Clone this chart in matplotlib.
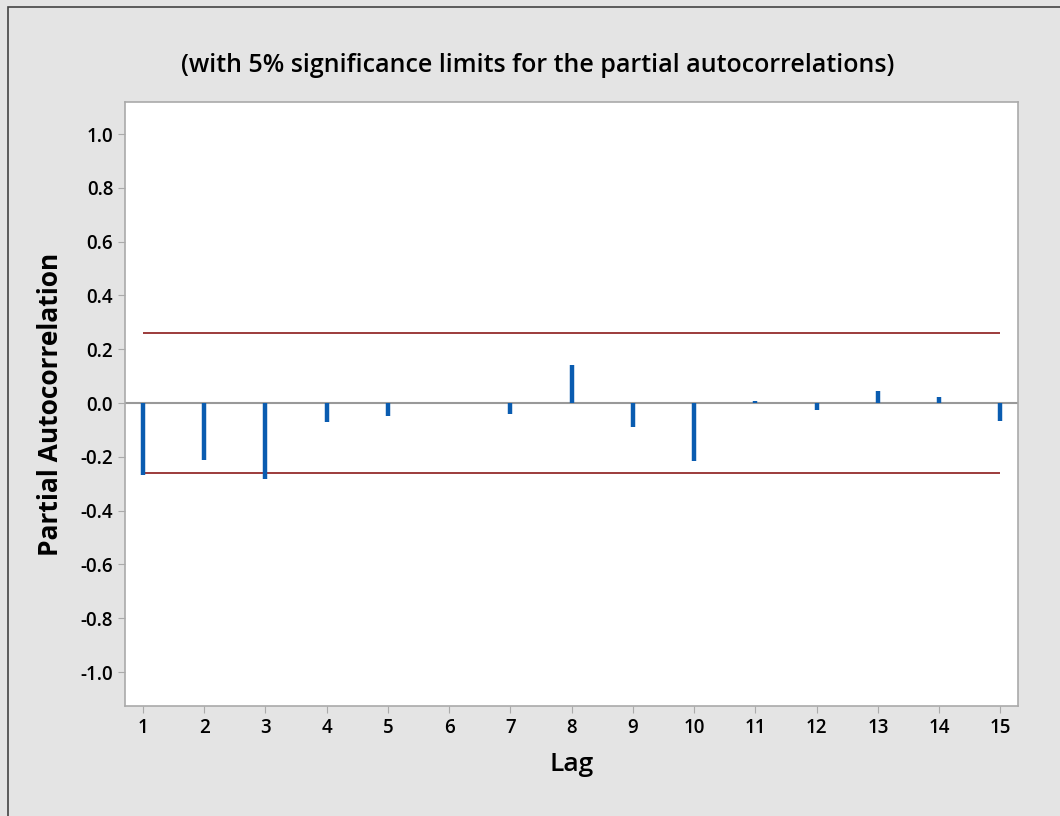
import numpy as np
import matplotlib.pyplot as plt
from matplotlib.patches import Rectangle

plt.rcParams['font.family'] = ['Open Sans', 'DejaVu Sans']

lags = np.arange(1, 16)
pacf = [-0.268, -0.212, -0.284, -0.072, -0.048, 0.0, -0.041, 0.141,
        -0.088, -0.214, 0.008, -0.025, 0.046, 0.022, -0.066]
sig_limit = 0.26
yticks = [-1.0, -0.8, -0.6, -0.4, -0.2, 0.0, 0.2, 0.4, 0.6, 0.8, 1.0]

fig = plt.figure(figsize=(10.6, 8.16), dpi=100)
fig.patch.set_facecolor("#e4e4e4")
fig.patches.append(Rectangle((0.008, -0.01), 1.1, 1.1 - 0.008 - 0.09,
                             transform=fig.transFigure, fill=False,
                             edgecolor="#444444", linewidth=1.2))
ax = fig.add_axes([125 / 1060, 1 - 706 / 816, (1018 - 125) / 1060, (706 - 102) / 816])
ax.set_facecolor("white")

ax.axhline(0, color="#999999", linewidth=1.5, zorder=1)
ax.hlines([sig_limit, -sig_limit], lags[0], lags[-1], color="#8b1a1a", linewidth=1.2, zorder=2)
ax.vlines(lags, 0, pacf, color="#0a5cb0", linewidth=3.2, zorder=3)

ax.set_xlim(0.706, 15.29)
ax.set_ylim(-1.126, 1.119)
ax.set_xticks(lags)
ax.set_yticks(yticks)
ax.set_yticklabels([f"{v:.1f}" for v in yticks])
for s in ax.spines.values():
    s.set_color("#aaaaaa")
    s.set_linewidth(1.2)
ax.tick_params(colors="#aaaaaa", labelcolor="black", labelsize=13.5, length=5)
for lab in ax.get_xticklabels() + ax.get_yticklabels():
    lab.set_fontweight("semibold")

ax.set_xlabel("Lag", fontsize=19, fontweight="semibold", labelpad=10)
ax.set_ylabel("Partial Autocorrelation", fontsize=19, fontweight="bold", labelpad=12)
fig.text(538 / 1060, 1 - 66 / 816, "(with 5% significance limits for the partial autocorrelations)",
         ha="center", va="center", fontsize=18, fontweight="semibold")

fig.savefig("out.png", dpi=100, facecolor=fig.get_facecolor())
